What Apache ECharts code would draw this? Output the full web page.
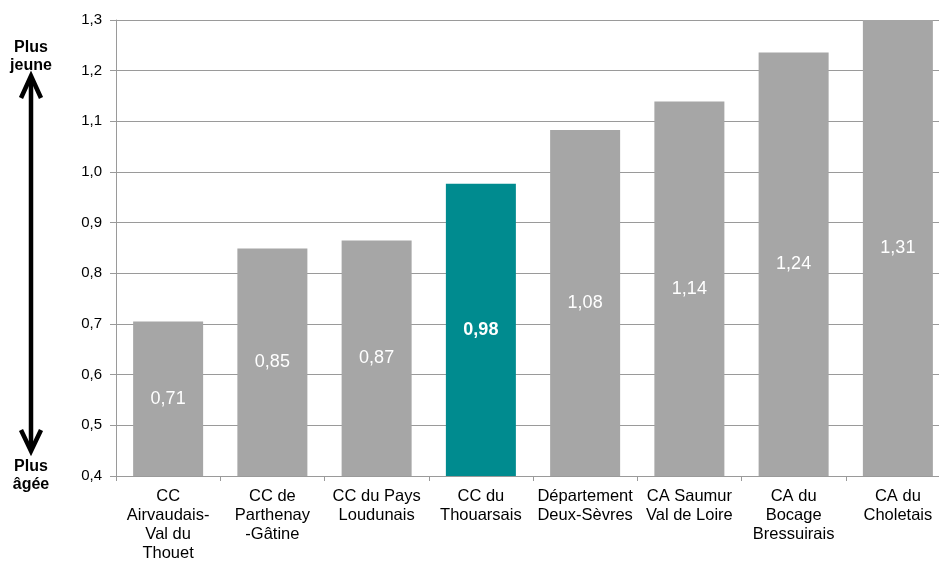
<!DOCTYPE html>
<html><head><meta charset="utf-8">
<script src="https://cdn.jsdelivr.net/npm/echarts@6/dist/echarts.min.js"></script>
<style>html,body{margin:0;padding:0;background:#fff;overflow:hidden;width:939px;height:563px}#c{width:950px;height:563px}</style>
</head><body><div id="c"></div>
<script>
const categories = ['CC\nAirvaudais-\nVal du\nThouet','CC de\nParthenay\n-Gâtine','CC du Pays\nLoudunais','CC du\nThouarsais','Département\nDeux-Sèvres','CA Saumur\nVal de Loire','CA du\nBocage\nBressuirais','CA du\nCholetais'];
const values = [0.705, 0.849, 0.865, 0.977, 1.083, 1.139, 1.236, 1.31];
const valueLabels = ['0,71','0,85','0,87','0,98','1,08','1,14','1,24','1,31'];
const highlightIndex = 3;
const yTicks = ['0,4','0,5','0,6','0,7','0,8','0,9','1,0','1,1','1,2','1,3'];

const font = '"Liberation Sans", Arial, Helvetica, sans-serif';
const chart = echarts.init(document.getElementById('c'), null, {renderer:'canvas', width:950, height:563});
chart.setOption({
  animation:false,
  grid:{left:116, right:0, top:20, bottom:86, containLabel:false},
  xAxis:{type:'category', data:categories,
    axisLine:{lineStyle:{color:'#9a9a9a', width:1}},
    axisTick:{show:true, alignWithLabel:false, length:5, lineStyle:{color:'#9a9a9a'}},
    axisLabel:{color:'#000', fontFamily:font, fontSize:16.5, lineHeight:19, margin:11, interval:0}
  },
  yAxis:{type:'value', min:0.4, max:1.3, interval:0.1,
    axisLine:{show:true, lineStyle:{color:'#9a9a9a'}},
    axisTick:{show:true, length:6, lineStyle:{color:'#9a9a9a'}},
    splitLine:{lineStyle:{color:'#9a9a9a', width:1}},
    axisLabel:{color:'#000', fontFamily:font, fontSize:15, margin:14,
      formatter:(v)=>yTicks[Math.round((v-0.4)*10)] ?? ''}
  },
  series:[{type:'bar', barWidth:70, clip:true,
    data: values.map((v,i)=>({value:v,
      itemStyle:{color: i===highlightIndex ? '#008b8f' : '#a6a6a6'},
      label:{fontWeight: i===highlightIndex ? 'bold' : 'normal'}})),
    label:{show:true, position:'inside', color:'#fff', fontFamily:font, fontSize:18,
      formatter:(p)=>valueLabels[p.dataIndex]}
  }],
  graphic:[
    {type:'text', x:31, y:39, style:{text:'Plus\njeune', fill:'#000', font:'bold 16px '+font, align:'center', lineHeight:18}},
    {type:'line', shape:{x1:31, y1:78, x2:31, y2:448}, style:{stroke:'#000', lineWidth:4.5}},
    {type:'polyline', shape:{points:[[21,98],[31,76],[41,98]]}, style:{stroke:'#000', lineWidth:4.5, fill:null, lineJoin:'miter'}},
    {type:'polyline', shape:{points:[[21,430],[31,451],[41,430]]}, style:{stroke:'#000', lineWidth:4.5, fill:null, lineJoin:'miter'}},
    {type:'text', x:31, y:458, style:{text:'Plus\nâgée', fill:'#000', font:'bold 16px '+font, align:'center', lineHeight:18}}
  ]
});
</script></body></html>
